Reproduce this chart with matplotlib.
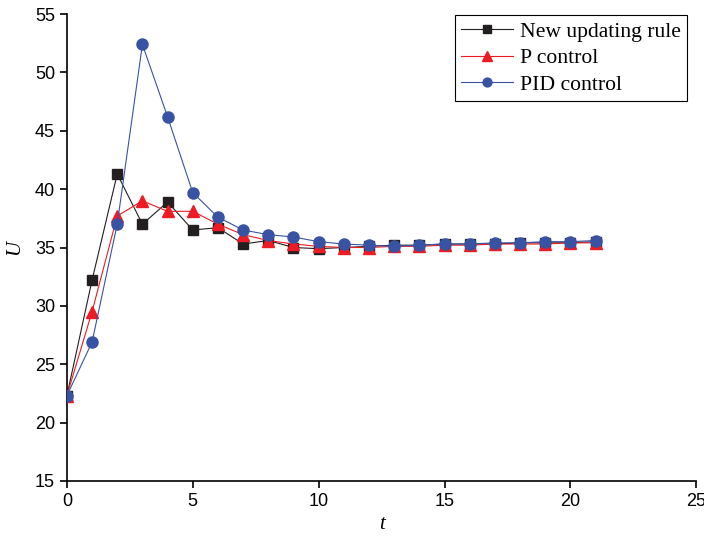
import matplotlib
matplotlib.use("Agg")
import matplotlib.pyplot as plt

t = list(range(22))
new_rule = [22.3, 32.2, 41.3, 37.0, 38.9, 36.5, 36.7, 35.3, 35.6, 35.0, 34.9, 35.0,
            35.1, 35.2, 35.2, 35.3, 35.3, 35.3, 35.4, 35.4, 35.4, 35.5]
p_control = [22.3, 29.5, 37.7, 39.0, 38.1, 38.1, 37.0, 36.1, 35.6, 35.3, 35.1, 35.0,
             35.0, 35.1, 35.1, 35.2, 35.2, 35.3, 35.3, 35.3, 35.4, 35.4]
pid_control = [22.3, 26.9, 37.0, 52.4, 46.2, 39.7, 37.6, 36.5, 36.1, 35.9, 35.5, 35.3,
               35.2, 35.1, 35.2, 35.3, 35.3, 35.4, 35.4, 35.5, 35.5, 35.6]
labels = ["New updating rule", "P control", "PID control"]
xticks = [0, 5, 10, 15, 20, 25]
yticks = [15, 20, 25, 30, 35, 40, 45, 50, 55]

fig = plt.figure(figsize=(7.04, 5.41), dpi=100)
ax = fig.add_axes([0.095, 0.111, 0.894, 0.863])

ax.plot(t, new_rule, color="#231f20", lw=0.8, marker="s", ms=7, mfc="#231f20", mec="#231f20", label=labels[0], zorder=3)
ax.plot(t, p_control, color="#ed1c24", lw=0.8, marker="^", ms=9, mfc="#ed1c24", mec="#ed1c24", label=labels[1], zorder=4)
ax.plot(t, pid_control, color="#3953a4", lw=0.8, marker="o", ms=8, mfc="#3953a4", mec="#3953a4", label=labels[2], zorder=5)

ax.set_xlim(0, 25)
ax.set_ylim(15, 55)
ax.set_xticks(xticks)
ax.set_yticks(yticks)
for s in ["top", "right"]:
    ax.spines[s].set_visible(False)
for s in ["left", "bottom"]:
    ax.spines[s].set_linewidth(1.2)
ax.tick_params(direction="out", length=5, width=1.2, labelsize=13)
for lab in ax.get_xticklabels() + ax.get_yticklabels():
    lab.set_family("Liberation Sans")

ax.set_xlabel("t", family="Liberation Serif", style="italic", fontsize=15, labelpad=4)
ax.set_ylabel("U", family="Liberation Serif", style="italic", fontsize=15, labelpad=8)

leg = ax.legend(loc="upper right", bbox_to_anchor=(0.9857, 0.998), borderaxespad=0,
                prop={"family": "Liberation Serif", "size": 15.6},
                frameon=True, fancybox=False, edgecolor="black", framealpha=1,
                handlelength=2.4, handletextpad=0.3, borderpad=0.3, labelspacing=0.3, markerscale=0.8)
leg.get_frame().set_linewidth(0.8)

fig.savefig("out.png", dpi=100)
